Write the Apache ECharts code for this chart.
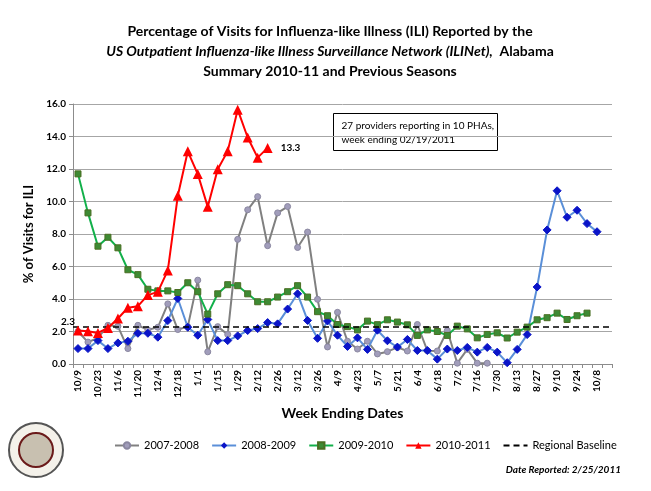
<!DOCTYPE html>
<html>
<head>
<meta charset="utf-8">
<script src="https://cdn.jsdelivr.net/npm/echarts@6/dist/echarts.min.js"></script>
<style>
html,body{margin:0;padding:0;background:#fff;}
#c{width:651px;height:491px;}
</style>
</head>
<body>
<div id="c"></div>
<script>
// Week ending dates (54 weekly categories, labels shown every 2 weeks)
const weeks = ['10/9','10/16','10/23','10/30','11/6','11/13','11/20','11/27','12/4','12/11','12/18','12/25',
  '1/1','1/8','1/15','1/22','1/29','2/5','2/12','2/19','2/26','3/5','3/12','3/19','3/26','4/2','4/9','4/16',
  '4/23','4/30','5/7','5/14','5/21','5/28','6/4','6/11','6/18','6/25','7/2','7/9','7/16','7/23','7/30','8/6',
  '8/13','8/20','8/27','9/3','9/10','9/17','9/24','10/1','10/8','10/15'];

const s2007 = [2.0,1.35,1.6,2.38,2.32,0.95,2.38,2.1,2.26,3.7,2.12,2.3,5.16,0.75,2.3,1.82,7.67,9.49,10.3,7.28,9.3,9.69,7.17,8.12,3.98,1.05,3.18,1.4,
  0.92,1.4,0.62,0.76,1.02,0.8,2.43,0.82,0.8,2.06,0.05,0.9,0.05,0.05];

const s2008 = [0.95,0.95,1.44,0.95,1.3,1.4,1.89,1.89,1.65,2.67,4.03,2.26,1.77,2.74,1.44,1.44,1.73,2.06,2.18,2.55,2.47,3.38,4.32,2.68,1.58,2.65,1.77,
  1.08,1.61,0.9,2.08,1.43,1.04,1.51,0.83,0.83,0.3,0.92,0.83,1.02,0.73,1.02,0.73,0.08,0.9,1.81,4.74,8.25,10.66,9.03,9.46,8.64,8.14];

const s2009 = [11.7,9.3,7.25,7.8,7.15,5.8,5.5,4.6,4.5,4.5,4.4,5.0,4.45,3.07,4.32,4.88,4.82,4.32,3.83,3.83,4.12,4.45,4.82,4.12,3.22,2.97,2.43,
  2.3,2.1,2.64,2.42,2.72,2.58,2.41,1.76,2.1,2.0,1.76,2.33,2.16,1.61,1.82,1.92,1.6,1.96,2.27,2.72,2.85,3.13,2.74,2.97,3.13];

const s2010 = [2.06,2.02,1.91,2.22,2.8,3.46,3.56,4.24,4.44,5.76,10.35,13.09,11.69,9.67,11.98,13.1,15.65,13.94,12.7,13.3];

const baseline = 2.3;
const yTicks = {min: 0, max: 16, interval: 2};

const chart = echarts.init(document.getElementById('c'), null, {renderer: 'canvas'});
const FONT = 'Lato';

const redData = s2010.map((v, i) => i === s2010.length - 1
  ? {value: v, label: {show: true, position: 'right', distance: 8, formatter: '{c}', color: '#000', fontSize: 10, fontWeight: 'bold', fontFamily: FONT}}
  : v);

chart.setOption({
  backgroundColor: '#fff',
  animation: false,
  title: {
    left: 325,
    top: 16,
    text: 'Percentage of Visits for Influenza-like Illness (ILI) Reported by the\n{i|US Outpatient Influenza-like Illness Surveillance Network (ILINet),}  Alabama\nSummary 2010-11 and Previous Seasons',
    textAlign: 'center',
    textStyle: {
      fontFamily: FONT, fontSize: 14, fontWeight: 'bold', color: '#000', lineHeight: 20,
      rich: {i: {fontFamily: FONT, fontSize: 14, fontWeight: 'bold', fontStyle: 'italic', color: '#000', lineHeight: 20}}
    }
  },
  grid: {left: 73, right: 39, top: 104, bottom: 127, containLabel: false},
  legend: {
    bottom: 40, left: 114, padding: 0,
    itemWidth: 24, itemHeight: 8, itemGap: 12,
    textStyle: {fontFamily: FONT, fontSize: 11, color: '#000'},
    data: ['2007-2008', '2008-2009', '2009-2010', '2010-2011', {name: 'Regional Baseline', itemStyle: {opacity: 0}}]
  },
  xAxis: {
    type: 'category',
    data: weeks,
    boundaryGap: true,
    name: 'Week Ending Dates',
    nameLocation: 'middle',
    nameGap: 42,
    nameTextStyle: {fontFamily: FONT, fontSize: 14, fontWeight: 'bold', color: '#000'},
    axisLine: {lineStyle: {color: '#8c8c8c', width: 1}},
    axisTick: {show: true, interval: 0, length: 4, lineStyle: {color: '#8c8c8c'}},
    axisLabel: {interval: 1, rotate: 90, fontFamily: FONT, fontSize: 10, fontWeight: 'bold', color: '#000', margin: 6},
    splitLine: {show: false}
  },
  yAxis: {
    type: 'value',
    min: yTicks.min, max: yTicks.max, interval: yTicks.interval,
    name: '% of Visits for ILI',
    nameLocation: 'middle',
    nameGap: 30,
    nameTextStyle: {fontFamily: FONT, fontSize: 13, fontWeight: 'bold', color: '#000'},
    axisLine: {show: true, lineStyle: {color: '#8c8c8c'}},
    axisTick: {show: true, length: 4, lineStyle: {color: '#8c8c8c'}},
    axisLabel: {formatter: v => v.toFixed(1), fontFamily: FONT, fontSize: 10, fontWeight: 'bold', color: '#000', margin: 7},
    splitLine: {lineStyle: {color: '#a6a6a6', width: 1}}
  },
  series: [
    {
      name: '2007-2008', type: 'line', data: s2007,
      symbol: 'circle', symbolSize: 6, showAllSymbol: true,
      lineStyle: {color: '#808080', width: 2},
      itemStyle: {color: '#a19dbb', borderColor: '#8a87a0', borderWidth: 1},
      z: 2
    },
    {
      name: '2008-2009', type: 'line', data: s2008,
      symbol: 'diamond', symbolSize: 8, showAllSymbol: true,
      lineStyle: {color: '#5a8fd8', width: 2},
      itemStyle: {color: '#0a14c8', borderColor: '#0a14c8'},
      z: 3
    },
    {
      name: '2009-2010', type: 'line', data: s2009,
      symbol: 'rect', symbolSize: 6, showAllSymbol: true,
      lineStyle: {color: '#12b04a', width: 2},
      itemStyle: {color: '#3e8a34', borderColor: '#4a6e22', borderWidth: 1},
      z: 4
    },
    {
      name: '2010-2011', type: 'line', data: redData,
      symbol: 'triangle', symbolSize: 10, showAllSymbol: true,
      lineStyle: {color: '#ff0000', width: 2},
      itemStyle: {color: '#ff0000'},
      z: 6
    },
    {
      name: 'Regional Baseline', type: 'line', data: [],
      symbol: 'none',
      lineStyle: {color: '#000', width: 1.5, type: [6, 4]},
      itemStyle: {color: '#000'},
      z: 5,
      markLine: {
        silent: true, symbol: 'none',
        lineStyle: {color: '#000', width: 1.5, type: [6, 4]},
        label: {show: true, position: 'start', distance: -2, formatter: '{a|' + baseline + '}',
          rich: {a: {fontFamily: FONT, fontSize: 10, fontWeight: 'bold', color: '#000', padding: [0, 0, 9, 0]}}},
        data: [{yAxis: baseline}]
      }
    }
  ],
  graphic: [
    {
      type: 'group', left: 333, top: 113,
      children: [
        {type: 'rect', shape: {x: 0, y: 0, width: 164, height: 37}, style: {fill: '#fff', stroke: '#000', lineWidth: 1}},
        {type: 'text', left: 8, top: 5, style: {text: '27 providers reporting in 10 PHAs,\nweek ending 02/19/2011', fontFamily: FONT, fontSize: 10, lineHeight: 14, fill: '#000'}}
      ]
    },
    {
      type: 'text', right: 30, bottom: 16,
      style: {text: 'Date Reported: 2/25/2011', fontFamily: FONT, fontSize: 10, fontWeight: 'bold', fontStyle: 'italic', fill: '#000'}
    },
    {
      type: 'group', left: 8, top: 422,
      children: [
        {type: 'circle', shape: {cx: 28, cy: 28, r: 27}, style: {fill: '#f4f1ea', stroke: '#555', lineWidth: 2}},
        {type: 'circle', shape: {cx: 28, cy: 28, r: 17}, style: {fill: '#c8c0b0', stroke: '#6b1a1a', lineWidth: 2}}
      ]
    }
  ]
});
</script>
</body>
</html>
